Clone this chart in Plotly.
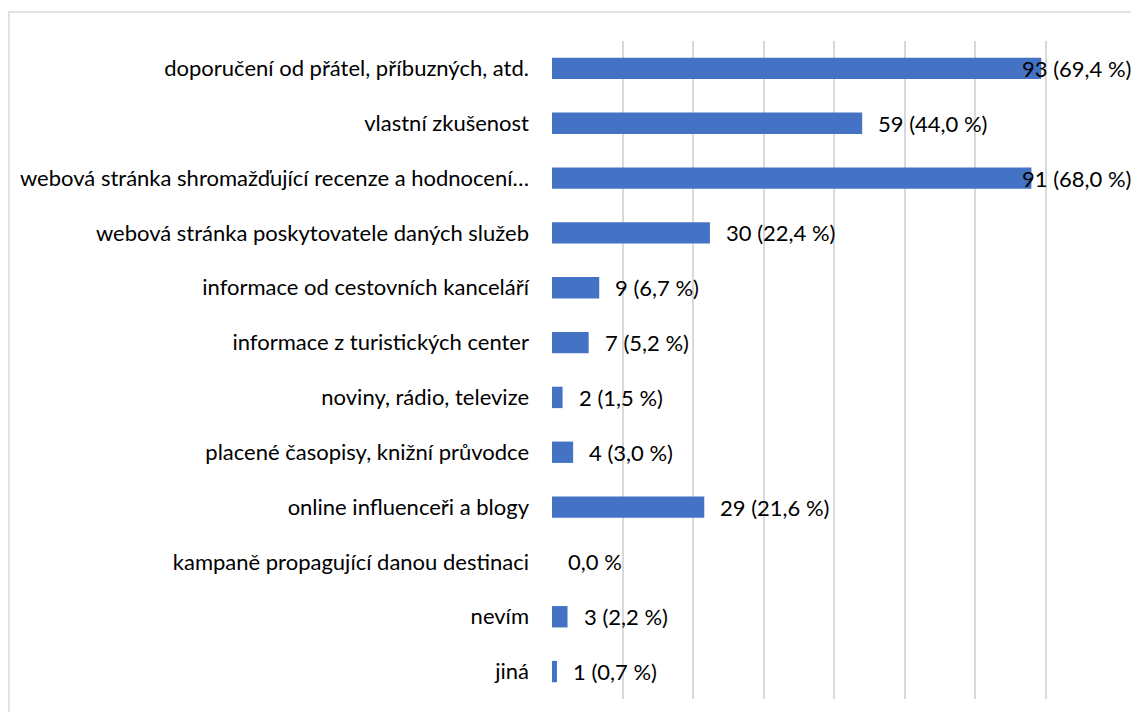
import plotly.graph_objects as go

# -- DATA --
categories = [
    "doporučení od přátel, příbuzných, atd.",
    "vlastní zkušenost",
    "webová stránka shromažďující recenze a hodnocení…",
    "webová stránka poskytovatele daných služeb",
    "informace od cestovních kanceláří",
    "informace z turistických center",
    "noviny, rádio, televize",
    "placené časopisy, knižní průvodce",
    "online influenceři a blogy",
    "kampaně propagující danou destinaci",
    "nevím",
    "jiná",
]
counts = [93, 59, 91, 30, 9, 7, 2, 4, 29, 0, 3, 1]
percents = [69.4, 44.0, 68.0, 22.4, 6.7, 5.2, 1.5, 3.0, 21.6, 0.0, 2.2, 0.7]

FONT = "Lato"
FONT_SIZE = 22
BAR_COLOR = "#4472C4"
GRID_COLOR = "#D9D9D9"


def fmt_label(n, p):
    pct = f"{p:.1f}".replace(".", ",") + "\u00a0%"
    if n == 0:
        return pct
    return f"{n} ({pct})"


fig = go.Figure()

fig.add_trace(go.Bar(
    y=categories,
    x=percents,
    orientation="h",
    width=0.39,
    marker=dict(color=BAR_COLOR, line=dict(width=0)),
    hoverinfo="skip",
))

# data labels: outside end, pushed back inside the chart when they would overflow
annotations = []
for cat, n, p in zip(categories, counts, percents):
    text = fmt_label(n, p)
    if p > 60:
        annotations.append(dict(
            x=1.03, xref="paper", y=cat, yref="y", text=text,
            xanchor="right", yanchor="middle", showarrow=False,
            font=dict(family=FONT, size=FONT_SIZE, color="#000000"),
        ))
    else:
        annotations.append(dict(
            x=p, xref="x", y=cat, yref="y", text=text,
            xanchor="left", yanchor="middle", showarrow=False, xshift=14,
            font=dict(family=FONT, size=FONT_SIZE, color="#000000"),
        ))

# page body has an 8px margin, so the figure is a bit smaller than the window
fig.update_layout(
    width=1131,
    height=704,
    template="plotly_white",
    paper_bgcolor="white",
    plot_bgcolor="white",
    showlegend=False,
    margin=dict(l=544, r=23, t=33, b=13),
    font=dict(family=FONT, size=FONT_SIZE, color="#000000"),
    annotations=annotations,
    shapes=[dict(
        type="rect", xref="paper", yref="paper",
        x0=-0.9628, x1=1.2, y0=-0.2, y1=1.044,
        line=dict(color=GRID_COLOR, width=1.5), layer="below",
    )],
)

fig.update_xaxes(
    range=[0, 80],
    dtick=10,
    showgrid=True,
    gridcolor=GRID_COLOR,
    gridwidth=2,
    showticklabels=False,
    zeroline=False,
    showline=False,
    fixedrange=True,
)
fig.update_yaxes(
    autorange="reversed",
    showgrid=False,
    showline=False,
    ticks="",
    ticklabelstandoff=22,
    tickfont=dict(family=FONT, size=FONT_SIZE, color="#000000"),
    fixedrange=True,
)

fig.write_html("out.html", config={"displayModeBar": False})
